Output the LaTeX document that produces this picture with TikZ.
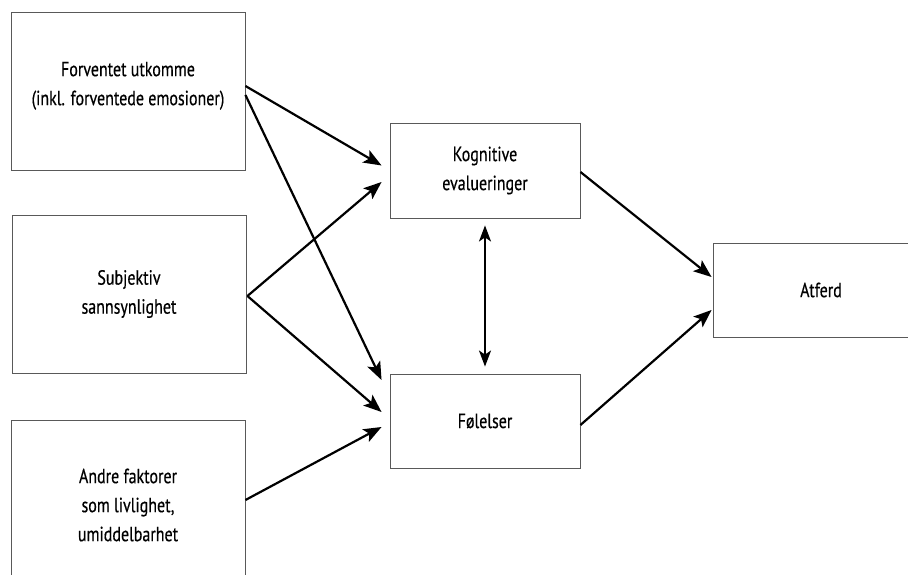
\documentclass[tikz,border=0pt]{standalone}
\usepackage{fontspec}
\setmainfont{PT Sans}[FakeStretch=0.78,FakeBold=0.4]
\usetikzlibrary{arrows.meta}
\begin{document}
\begin{tikzpicture}[x=1pt,y=-1pt,
  box/.style={draw=black!65,line width=0.9pt,rectangle,align=center,inner sep=0pt,
     font=\fontsize{20.5}{29}\selectfont,text=black},
  arr/.style={line width=2.2pt,-{Stealth[length=18pt,width=14pt,inset=4pt]}},
  darr/.style={line width=1.8pt,{Stealth[length=16pt,width=12pt,inset=4pt]}-{Stealth[length=16pt,width=12pt,inset=4pt]}}]
\useasboundingbox (0,0) rectangle (908,575);
\clip (0,0) rectangle (908,575);
\fill[white] (0,0) rectangle (908,575);
\node[box,minimum width=234pt,minimum height=158pt] (f) at (128,91) {Forventet utkomme\\(inkl. forventede emosioner)\\[-14pt]};
\node[box,minimum width=234pt,minimum height=158pt] (s) at (129,294) {Subjektiv\\sannsynlighet};
\node[box,minimum width=234pt,minimum height=170pt] (a) at (128,505) {Andre faktorer\\som livlighet,\\umiddelbarhet};
\node[box,minimum width=190pt,minimum height=95pt] (k) at (485,170.5) {Kognitive\\evalueringer};
\node[box,minimum width=190pt,minimum height=94pt] (fo) at (485,421) {Følelser};
\node[box,minimum width=216pt,minimum height=94pt] (at) at (821,290) {Atferd};
\draw[arr] ([shift={(0,-5)}]f.east) -- ([shift={(-8,-5)}]k.west);
\draw[arr] ([shift={(0,4)}]f.east) -- ([shift={(-8,-41)}]fo.west);
\draw[arr] ([shift={(1,2)}]s.east) -- ([shift={(-8,11.5)}]k.west);
\draw[arr] ([shift={(1,2)}]s.east) -- ([shift={(-8,-9)}]fo.west);
\draw[arr] ([shift={(0,-5)}]a.east) -- ([shift={(-8,6)}]fo.west);
\draw[arr] ([shift={(0,1.5)}]k.east) -- ([shift={(-1,-13)}]at.west);
\draw[arr] ([shift={(0,4)}]fo.east) -- ([shift={(-1,20)}]at.west);
\draw[darr] ([shift={(0,7)}]k.south) -- ([shift={(0,-7)}]fo.north);
\end{tikzpicture}
\end{document}
